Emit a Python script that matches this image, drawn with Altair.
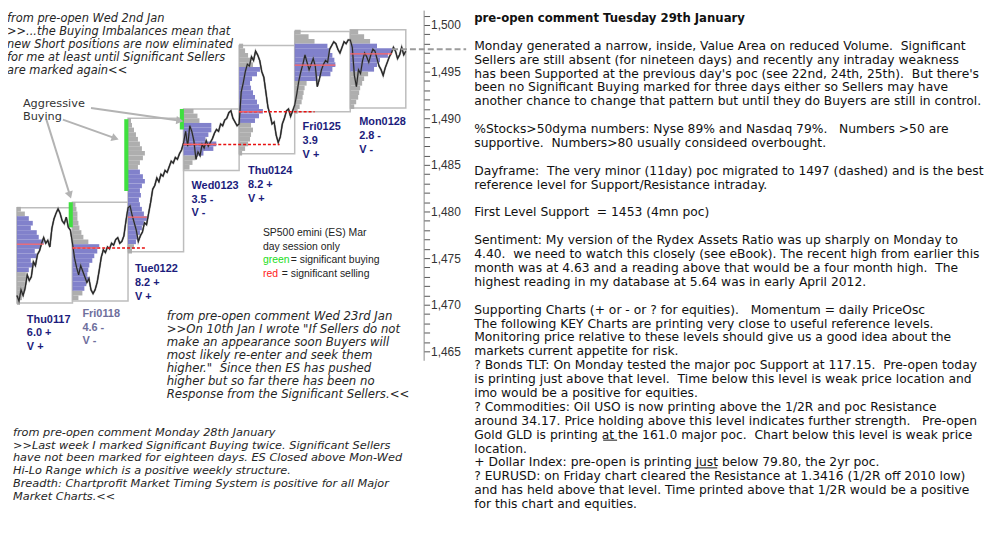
import altair as alt
import pandas as pd

# ---------------- data ----------------
days = ["Thu0117", "Fri0118", "Tue0122", "Wed0123", "Thu0124", "Fri0125", "Mon0128"]
va_size = ["6.0 +", "4.6 -", "8.2 +", "3.5 -", "8.2 +", "3.9", "2.8 -"]
vol_sign = ["V +", "V -", "V +", "V -", "V +", "V +", "V -"]

# ES price sampled every 3 five-minute bars through each day session (81 bars)
price_thu0117 = [1471.0, 1470.4, 1471.6, 1471.0, 1471.8, 1473.2, 1472.6, 1473.0, 1474.6, 1474.2,
                 1475.4, 1475.8, 1476.6, 1477.2, 1476.6, 1476.9, 1476.2, 1478.2, 1479.2, 1479.8,
                 1480.3, 1479.8, 1479.0, 1478.7, 1479.4, 1478.3, 1478.0]
price_fri0118 = [1476.6, 1475.0, 1474.0, 1473.2, 1474.2, 1473.6, 1473.0, 1472.4, 1472.8, 1471.6,
                 1471.2, 1471.6, 1472.4, 1473.7, 1475.1, 1475.9, 1475.6, 1476.2, 1476.0, 1476.6,
                 1476.4, 1477.0, 1477.2, 1476.6, 1476.8, 1477.4, 1479.0]
price_tue0122 = [1480.4, 1480.6, 1479.6, 1478.8, 1478.0, 1476.8, 1477.4, 1477.8, 1478.8, 1478.6,
                 1479.8, 1481.0, 1482.4, 1482.8, 1483.6, 1483.2, 1484.0, 1483.8, 1484.4, 1484.2,
                 1484.8, 1485.4, 1485.2, 1485.8, 1485.6, 1486.2, 1486.6]
price_wed0123 = [1487.4, 1488.6, 1487.0, 1489.2, 1488.6, 1487.6, 1485.6, 1486.4, 1486.0, 1487.2,
                 1486.8, 1487.6, 1487.0, 1487.4, 1487.8, 1488.4, 1488.8, 1488.6, 1489.4, 1489.2,
                 1489.8, 1490.0, 1490.6, 1490.8, 1490.0, 1489.6, 1489.2]
price_thu0124 = [1489.4, 1492.8, 1493.8, 1495.0, 1495.8, 1495.6, 1496.6, 1496.2, 1497.2, 1496.8,
                 1496.2, 1495.0, 1494.4, 1492.8, 1491.2, 1490.4, 1489.4, 1489.6, 1488.2, 1487.4,
                 1488.0, 1489.4, 1490.0, 1490.8, 1491.0, 1490.2, 1490.8]
price_fri0125 = [1491.4, 1492.6, 1494.0, 1495.0, 1495.8, 1496.8, 1496.0, 1495.2, 1495.8, 1496.4,
                 1495.6, 1493.4, 1494.2, 1495.2, 1495.8, 1496.2, 1496.0, 1497.4, 1497.8, 1498.2,
                 1498.0, 1497.4, 1497.0, 1497.6, 1498.2, 1498.0, 1498.4]
price_mon0128 = [1498.4, 1497.6, 1494.6, 1493.4, 1495.2, 1494.8, 1496.2, 1497.0, 1496.6, 1496.0,
                 1496.8, 1497.4, 1497.2, 1496.4, 1495.6, 1495.2, 1494.6, 1495.4, 1496.0, 1496.6,
                 1497.0, 1497.6, 1497.2, 1496.4, 1496.8, 1497.6, 1496.8, 1497.2]

# volume-at-price profiles, 0.5 pt bins, listed from the top bin down
prof_top = [1480.0, 1480.5, 1489.5, 1490.5, 1497.5, 1499.0, 1499.0]
prof_thu0117 = [4, 8, 12, 16, 14, 20, 22, 27, 24, 18, 20, 14, 16, 12, 9, 10, 8, 9, 7, 5, 3]
prof_fri0118 = [3, 4, 5, 5, 6, 7, 9, 11, 16, 27, 25, 22, 20, 17, 16, 15, 17, 14, 12, 10, 6]
prof_tue0122 = [3, 4, 6, 8, 10, 12, 14, 17, 15, 12, 10, 12, 15, 17, 14, 12, 13, 11, 12, 14, 16,
                19, 16, 14, 12, 10, 8, 6, 4]
prof_wed0123 = [10, 14, 16, 28, 28, 25, 22, 33, 30, 20, 12, 9, 6]
prof_thu0124 = [4, 6, 9, 12, 14, 21, 18, 13, 11, 12, 14, 16, 18, 20, 24, 20, 16, 12, 14, 12, 11,
                9, 6, 3]
prof_fri0125 = [6, 14, 20, 33, 35, 38, 40, 41, 38, 36, 23, 12, 10, 9, 8, 7, 5, 3]
prof_mon0128 = [8, 14, 20, 27, 42, 38, 30, 27, 24, 18, 14, 12, 10, 9, 8, 6, 4]
va_lo = [1473.5, 1471.5, 1476.5, 1486.0, 1489.5, 1494.0, 1495.0]
va_hi = [1479.0, 1476.0, 1484.0, 1489.0, 1495.0, 1497.5, 1497.5]

box_hi = [1480.4, 1481.0, 1490.0, 1491.0, 1497.8, 1499.3, 1499.5]
box_lo = [1470.2, 1470.4, 1475.7, 1484.4, 1486.2, 1490.7, 1491.1]

poc = [1476.5, 1476.1, 1479.4, 1487.2, 1490.7, 1495.7, 1496.9]
poc_ext_end = [None, 188, None, 383, 434, None, None]   # bar index where the naked poc was hit

sig_buy_day = [1, 2, 3]
sig_buy_lo = [1478.3, 1482.2, 1488.8]
sig_buy_hi = [1481.0, 1489.9, 1491.0]

minor_poc = 1497.4
minor_poc_from, minor_poc_to = 547, 655

arrow_x1 = [108.0, 67.0, 43.0]
arrow_y1 = [1491.1, 1489.86, 1489.86]
arrow_x2 = [235.8, 141.7, 76.7]
arrow_y2 = [1489.76, 1487.9, 1481.88]
arrow_angle = [98, 110, 162]

# ---------------- tables ----------------
BARS = 81
STEP = 3
VOL_SCALE = 1.4464
series = [price_thu0117, price_fri0118, price_tue0122, price_wed0123,
          price_thu0124, price_fri0125, price_mon0128]
profiles = [prof_thu0117, prof_fri0118, prof_tue0122, prof_wed0123,
            prof_thu0124, prof_fri0125, prof_mon0128]

price_rows = []
for d, s in enumerate(series):
    for k, p in enumerate(s):
        price_rows.append({"t": d * BARS + k * STEP, "price": p})
price_df = pd.DataFrame(price_rows)

prof_rows = []
for d, widths in enumerate(profiles):
    for i, w in enumerate(widths):
        lo = prof_top[d] - 0.5 * i
        prof_rows.append({"t0": d * BARS, "t1": d * BARS + w * VOL_SCALE,
                          "lo": lo, "hi": lo + 0.5,
                          "zone": "va" if va_lo[d] <= lo <= va_hi[d] else "out"})
prof_df = pd.DataFrame(prof_rows)

box_df = pd.DataFrame({"t0": [d * BARS for d in range(7)], "t1": [(d + 1) * BARS for d in range(7)],
                       "hi": box_hi, "lo": box_lo})
poc_df = pd.DataFrame({"t0": [d * BARS for d in range(7)],
                       "t1": [d * BARS + max(p) * VOL_SCALE for d, p in enumerate(profiles)],
                       "poc": poc})
ext_df = pd.DataFrame([{"t0": d * BARS, "t1": e, "poc": poc[d]}
                       for d, e in enumerate(poc_ext_end) if e is not None])
green_df = pd.DataFrame({"t0": [d * BARS - 5.5 for d in sig_buy_day],
                         "t1": [d * BARS + 0.5 for d in sig_buy_day],
                         "lo": sig_buy_lo, "hi": sig_buy_hi})
minor_df = pd.DataFrame({"t0": [minor_poc_from], "t1": [minor_poc_to], "p": [minor_poc]})
arrow_df = pd.DataFrame({"x1": arrow_x1, "y1": arrow_y1, "x2": arrow_x2, "y2": arrow_y2,
                         "ang": arrow_angle})

# ---------------- chart ----------------
XS = alt.Scale(domain=[-13, 593], nice=False, zero=False)
YS = alt.Scale(domain=[1464.05, 1501.6], nice=False, zero=False)
YAXIS = alt.Axis(orient="right", values=list(range(1464, 1502)),
                 labelExpr="datum.value % 5 === 0 ? format(datum.value, ',') : ''",
                 tickSize=6, tickColor="#555555", domainColor="#8a8a8a",
                 labelFont="Liberation Sans", labelFontSize=12, labelColor="#333333",
                 labelPadding=1, grid=False, title=None)


def xenc(f):
    return alt.X(f, type="quantitative", scale=XS, axis=None, title=None)


def yenc(f):
    return alt.Y(f, type="quantitative", scale=YS, axis=YAXIS, title=None)


line = alt.Chart(price_df).mark_line(color="#262626", strokeWidth=1.1).encode(
    x=xenc("t"), y=yenc("price"))

boxes = alt.Chart(box_df).mark_rect(filled=False, stroke="#bdbdbd", strokeWidth=1.5).encode(
    x=xenc("t0"), x2="t1", y=yenc("hi"), y2="lo")

prof = alt.Chart(prof_df).mark_rect(opacity=0.95).encode(
    x=xenc("t0"), x2="t1", y=yenc("lo"), y2="hi",
    color=alt.Color("zone:N", scale=alt.Scale(domain=["va", "out"], range=["#7a7ac8", "#aaaaaa"]),
                    legend=None))

green = alt.Chart(green_df).mark_rect(color="#3fe03f").encode(
    x=xenc("t0"), x2="t1", y=yenc("lo"), y2="hi")

halo = alt.Chart(price_df).mark_line(color="#7a7a7a", strokeWidth=2.2, opacity=0.55).encode(
    x=xenc("t"), y=yenc("price"))

ext = alt.Chart(ext_df).mark_rule(color="#e81010", strokeWidth=1.5, strokeDash=[3, 2]).encode(
    x=xenc("t0"), x2="t1", y=yenc("poc"))
pocl = alt.Chart(poc_df).mark_rule(color="#ff6464", strokeWidth=1.2).encode(
    x=xenc("t0"), x2="t1", y=yenc("poc"))
minor = alt.Chart(minor_df).mark_rule(color="#9c9c9c", strokeWidth=2, strokeDash=[6, 3]).encode(
    x=xenc("t0"), x2="t1", y=yenc("p"))

arr = alt.Chart(arrow_df).mark_rule(color="#b3b3b3", strokeWidth=2).encode(
    x=xenc("x1"), y=yenc("y1"), x2="x2", y2="y2")
heads = alt.Chart(arrow_df).mark_point(shape="triangle", filled=True, color="#b3b3b3",
                                       size=70, opacity=1).encode(
    x=xenc("x2"), y=yenc("y2"), angle=alt.Angle("ang:Q", scale=None))

ONE = pd.DataFrame({"k": [0]})
NBSP = "\u00a0"


def text_block(lines, px, py, **kw):
    lines = [ln.replace("  ", " " + NBSP) for ln in lines]
    return alt.Chart(ONE).mark_text(text=lines, align="left", baseline="alphabetic", **kw).encode(
        x=alt.value(px - 8), y=alt.value(py - 8))


def underline(x0, x1, py):
    return alt.Chart(ONE).mark_rule(color="#111111", strokeWidth=1).encode(
        x=alt.value(x0 - 8), x2=alt.value(x1 - 8), y=alt.value(py - 8))


ITAL = dict(font="DejaVu Sans", fontStyle="italic", color="#262626")

top_note = text_block([
    "from pre-open Wed 2nd Jan",
    ">>...the Buying Imbalances mean that",
    "new Short positions are now eliminated",
    "for me at least until Significant Sellers",
    "are marked again<<"], 7, 20, fontSize=11.5, lineHeight=13, **ITAL)

aggr = text_block(["Aggressive", "Buying"], 23, 106, font="DejaVu Sans", fontSize=11.4,
                  lineHeight=13, color="#333333")

mid_note = text_block([
    "from pre-open comment Wed 23rd Jan",
    ">>On 10th Jan I wrote \"If Sellers do not",
    "make an appearance soon Buyers will",
    "most likely re-enter and seek them",
    "higher.\"  Since then ES has pushed",
    "higher but so far there has been no",
    "Response from the Significant Sellers.<<"], 168, 320, fontSize=11.8, lineHeight=13.2, **ITAL)

bot_note = text_block([
    "from pre-open comment Monday 28th January",
    ">>Last week I marked Significant Buying twice. Significant Sellers",
    "have not been marked for eighteen days. ES Closed above Mon-Wed",
    "Hi-Lo Range which is a positive weekly structure.",
    "Breadth: Chartprofit Market Timing System is positive for all Major",
    "Market Charts.<<"], 13, 437, fontSize=11.4, lineHeight=13, **ITAL)

LEG = dict(font="Liberation Sans", fontSize=10.5)
leg1 = text_block(["SP500 emini (ES) Mar", "day session only"], 265, 236, lineHeight=13.5,
                  color="#222222", **LEG)
leg2 = text_block(["green"], 265, 263, color="#22dd22", **LEG)
leg3 = text_block(["= significant buying"], 293, 263, color="#222222", **LEG)
leg4 = text_block(["red"], 265, 277, color="#ff2020", **LEG)
leg5 = text_block(["= significant selling"], 284, 277, color="#222222", **LEG)

label_pos = [(27, 323), (83, 317), (136, 272), (193, 188), (250, 173), (305, 129), (362, 124)]
day_labels = []
for d, name in enumerate(days):
    px, py = label_pos[d]
    col = "#6e6e9c" if name == "Fri0118" else "#1c1c7c"
    day_labels.append(text_block([name, va_size[d], vol_sign[d]], px, py, font="Liberation Sans",
                                 fontWeight="bold", fontSize=11, lineHeight=14, color=col))

right_title = text_block(["pre-open comment Tuesday 29th January"], 478, 20, font="DejaVu Sans",
                         fontWeight="bold", fontSize=11.8, color="#111111")

paragraphs = [
    ["Monday generated a narrow, inside, Value Area on reduced Volume.  Significant",
     "Sellers are still absent (for nineteen days) and recently any intraday weakness",
     "has been Supported at the previous day's poc (see 22nd, 24th, 25th).  But there's",
     "been no Significant Buying marked for three days either so Sellers may have",
     "another chance to change that pattern but until they do Buyers are still in control."],
    ["%Stocks>50dyma numbers: Nyse 89% and Nasdaq 79%.   Numbers >50 are",
     "supportive.  Numbers>80 usually consideed overbought."],
    ["Dayframe:  The very minor (11day) poc migrated to 1497 (dashed) and is the best",
     "reference level for Support/Resistance intraday."],
    ["First Level Support  = 1453 (4mn poc)"],
    ["Sentiment: My version of the Rydex Assets Ratio was up sharply on Monday to",
     "4.40.  we need to watch this closely (see eBook). The recent high from earlier this",
     "month was at 4.63 and a reading above that would be a four month high.  The",
     "highest reading in my database at 5.64 was in early April 2012."],
    ["Supporting Charts (+ or - or ? for equities).   Momentum = daily PriceOsc",
     "The following KEY Charts are printing very close to useful reference levels.",
     "Monitoring price relative to these levels should give us a good idea about the",
     "markets current appetite for risk.",
     "? Bonds TLT: On Monday tested the major poc Support at 117.15.  Pre-open today",
     "is printing just above that level.  Time below this level is weak price location and",
     "imo would be a positive for equities.",
     "? Commodities: Oil USO is now printing above the 1/2R and poc Resistance",
     "around 34.17. Price holding above this level indicates further strength.   Pre-open",
     "Gold GLD is printing at the 161.0 major poc.  Chart below this level is weak price",
     "location.",
     "+ Dollar Index: pre-open is printing just below 79.80, the 2yr poc.",
     "? EURUSD: on Friday chart cleared the Resistance at 1.3416 (1/2R off 2010 low)",
     "and has held above that level. Time printed above that 1/2R would be a positive",
     "for this chart and equities."],
]
para_baseline = [48, 132, 174, 216, 244, 314]
body_layers = [text_block(p, 478, b, font="DejaVu Sans", fontSize=12.4, lineHeight=14,
                          color="#111111") for p, b in zip(paragraphs, para_baseline)]

ul1 = underline(608, 622, 441.5)
ul2 = underline(700, 723, 469.5)

chart = alt.layer(
    line, boxes, prof, green, halo, line, ext, pocl, minor, arr, heads,
    top_note, aggr, mid_note, bot_note, leg1, leg2, leg3, leg4, leg5,
    *day_labels, right_title, *body_layers, ul1, ul2
).properties(
    width=419, height=353,
    autosize=alt.AutoSizeParams(type="none"),
    padding={"left": 0, "top": 0, "right": 576, "bottom": 172},
).configure_view(stroke=None)

chart.save("out.html", embed_options={"renderer": "svg", "actions": False})
